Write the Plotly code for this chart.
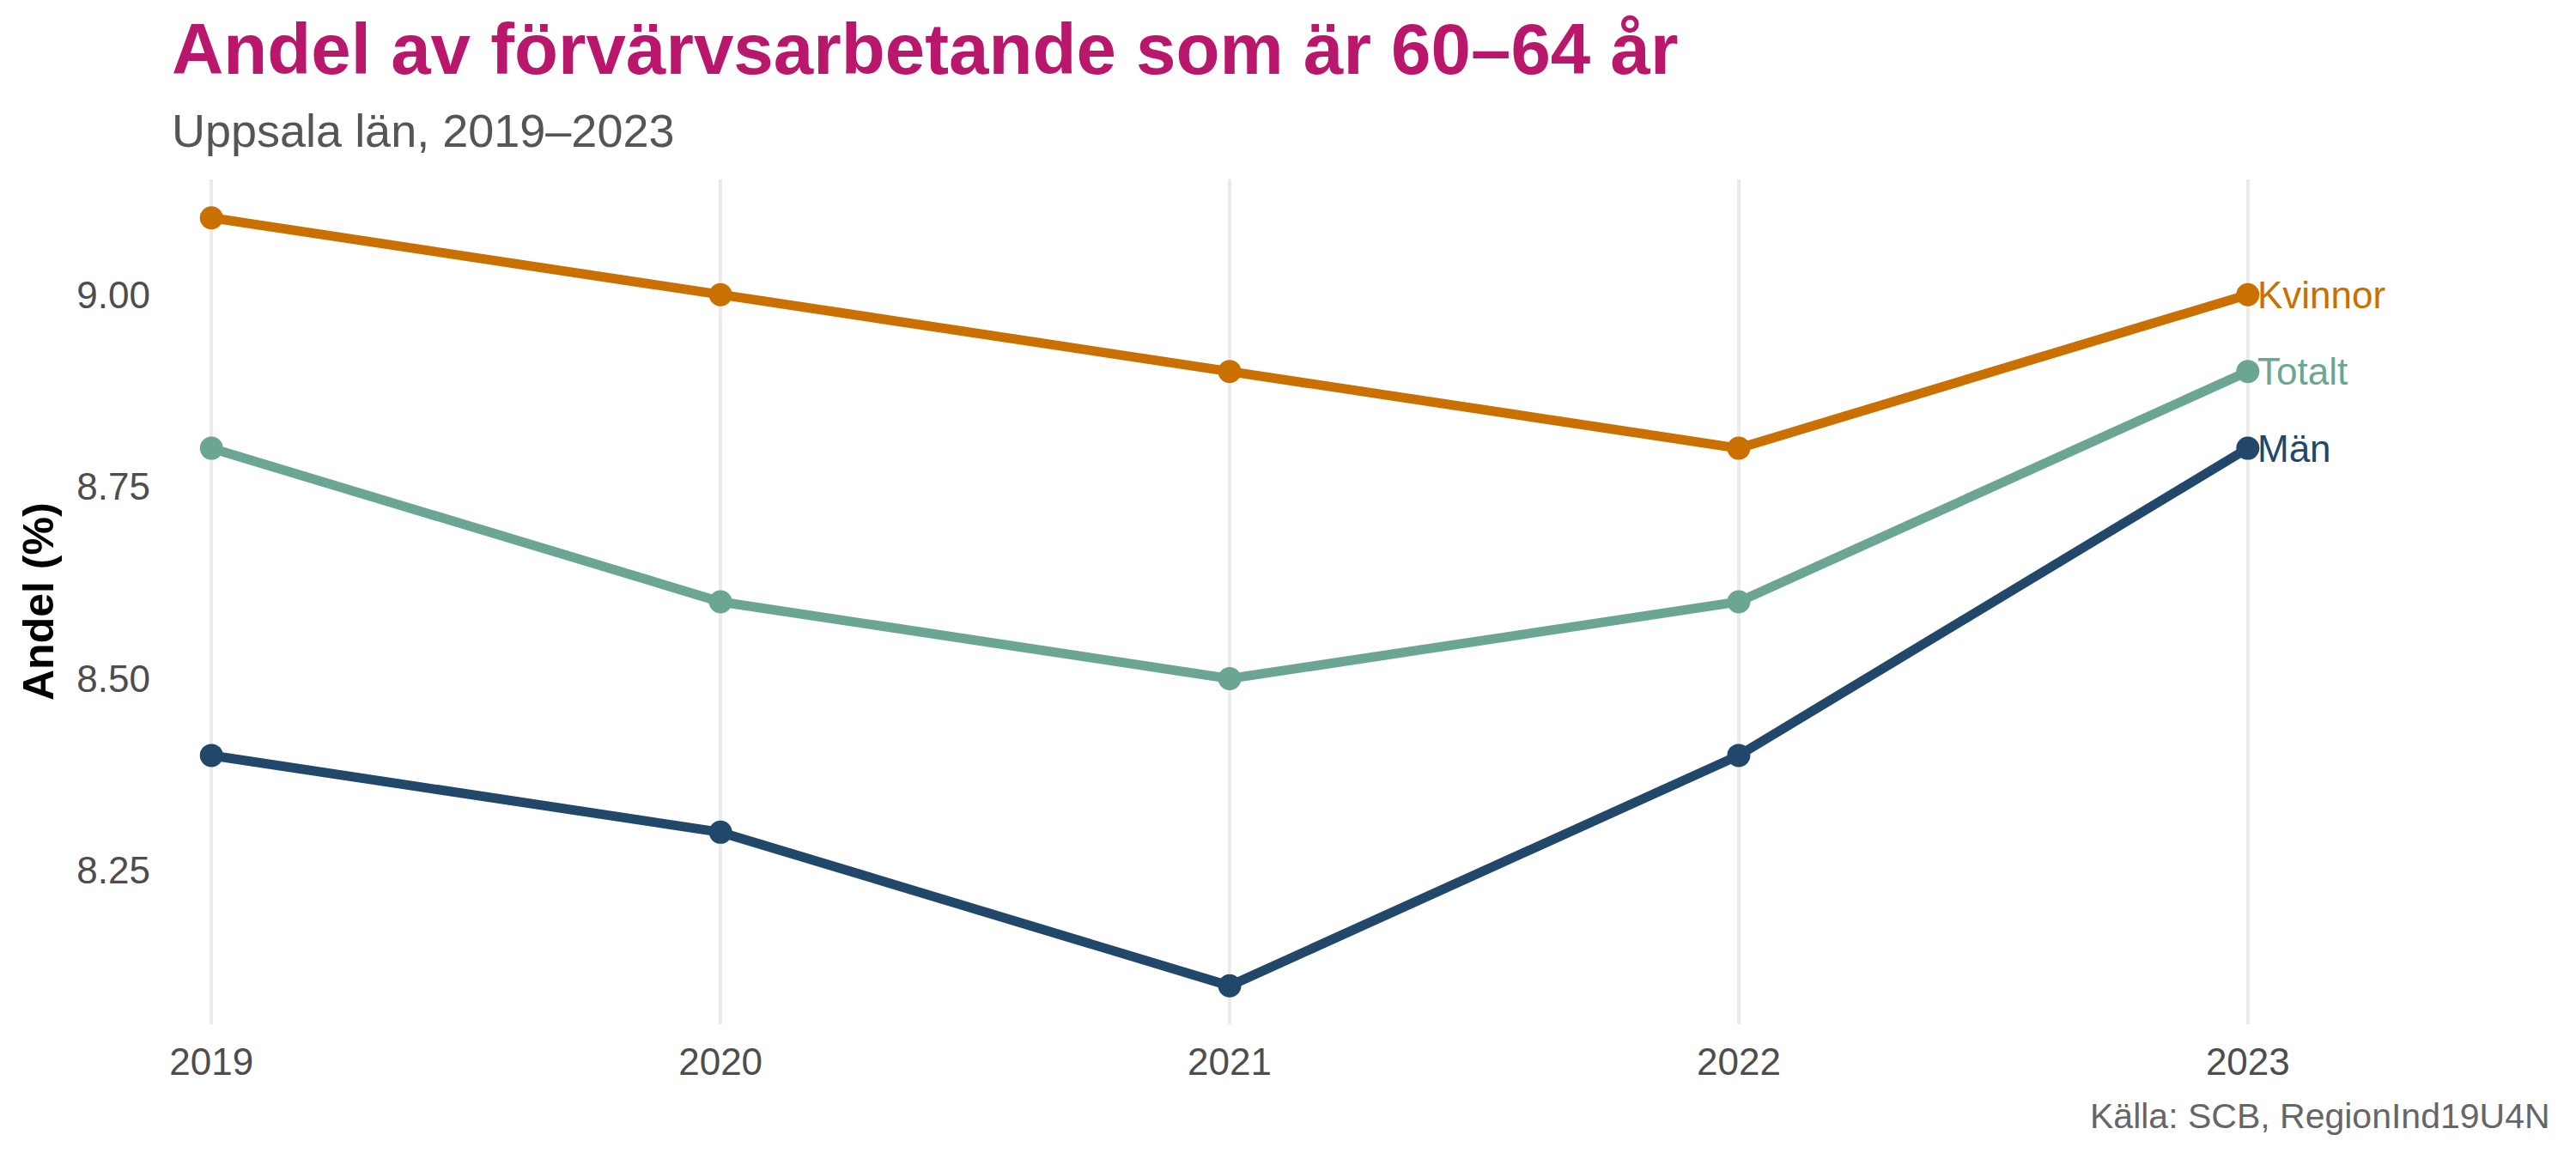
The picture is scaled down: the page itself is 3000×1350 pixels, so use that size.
import plotly.graph_objects as go

years = [2019, 2020, 2021, 2022, 2023]
kvinnor = [9.1, 9.0, 8.9, 8.8, 9.0]
totalt = [8.8, 8.6, 8.5, 8.6, 8.9]
man = [8.4, 8.3, 8.1, 8.4, 8.8]

series_names = ["Totalt", "Män", "Kvinnor"]
series_values = [totalt, man, kvinnor]
series_colors = ["#6BA593", "#21476A", "#C97000"]

y_ticks = [8.25, 8.50, 8.75, 9.00]
y_ticklabels = ["8.25", "8.50", "8.75", "9.00"]

title_text = "Andel av förvärvsarbetande som är 60–64 år"
subtitle_text = "Uppsala län, 2019–2023"
caption_text = "Källa: SCB, RegionInd19U4N"
ylabel_text = "Andel (%)"

FONT = "Liberation Sans, Arial, sans-serif"

W, H = 3000, 1350
L, R, T, B = 200, 30, 209, 157
plot_h = H - T - B
plot_w = W - L - R


def py(pix):
    return (H - B - pix) / plot_h


def px(pix):
    return (pix - L) / plot_w


fig = go.Figure()
annotations = []
for name, vals, col in zip(series_names, series_values, series_colors):
    fig.add_trace(go.Scatter(
        x=years, y=vals, name=name,
        mode="lines+markers",
        line=dict(color=col, width=11),
        marker=dict(color=col, size=27, line=dict(width=0)),
        cliponaxis=False,
        showlegend=False,
        hoverinfo="skip",
    ))
    annotations.append(dict(
        text=name, x=years[-1], y=vals[-1], xref="x", yref="y",
        xanchor="left", yanchor="middle", xshift=9, showarrow=False,
        font=dict(family=FONT, size=44, color=col),
    ))

annotations += [
    dict(text="<b>" + title_text + "</b>", xref="paper", yref="paper",
         x=px(198), y=py(57), xanchor="left", yanchor="middle",
         showarrow=False, font=dict(family=FONT, size=83.5, color="#B8176B")),
    dict(text=subtitle_text, xref="paper", yref="paper",
         x=px(198), y=py(151.5), xanchor="left", yanchor="middle",
         showarrow=False, font=dict(family=FONT, size=54, color="#555555")),
    dict(text=caption_text, xref="paper", yref="paper",
         x=px(2972), y=py(1300), xanchor="right", yanchor="middle",
         showarrow=False, font=dict(family=FONT, size=41, color="#666666")),
    dict(text="<b>" + ylabel_text + "</b>", xref="paper", yref="paper",
         x=px(45), y=py(701), xanchor="center", yanchor="middle",
         textangle=-90, showarrow=False,
         font=dict(family=FONT, size=50, color="#000000")),
]

fig.update_layout(
    width=W, height=H,
    margin=dict(l=L, r=R, t=T, b=B, pad=0),
    paper_bgcolor="white", plot_bgcolor="white",
    font=dict(family=FONT, color="#4D4D4D"),
    showlegend=False,
    xaxis=dict(
        range=[2018.922, 2023.594],
        tickmode="array", tickvals=years, ticktext=[str(y) for y in years],
        showgrid=True, gridcolor="#EBEBEB", gridwidth=3.5,
        zeroline=False, showline=False, ticks="",
        tickfont=dict(family=FONT, size=44, color="#4D4D4D"),
        ticklabelstandoff=14,
    ),
    yaxis=dict(
        range=[8.05, 9.15],
        tickmode="array", tickvals=y_ticks, ticktext=y_ticklabels,
        showgrid=False, zeroline=False, showline=False, ticks="",
        tickfont=dict(family=FONT, size=44, color="#4D4D4D"),
        ticklabelstandoff=24,
    ),
    annotations=annotations,
)

fig.write_html("out.html", config={"displayModeBar": False},
               post_script="document.body.style.margin='0px';")
